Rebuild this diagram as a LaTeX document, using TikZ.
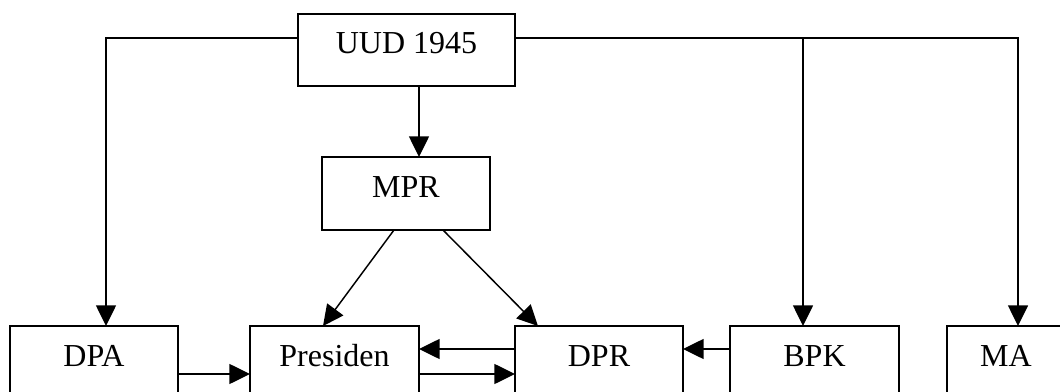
\documentclass[tikz,border=0pt]{standalone}
\usepackage{fontspec}
\setmainfont{Liberation Serif}
\usetikzlibrary{arrows.meta,calc}
\begin{document}
\begin{tikzpicture}[x=0.75pt,y=-0.75pt,
  box/.style={draw,line width=1.1pt,inner sep=0pt,outer sep=0pt,
    font=\fontsize{24}{28}\selectfont,text height=15.75pt,text depth=9.75pt,
    minimum height=54.75pt},
  conn/.style={line width=1.1pt},
  arr/.style={conn,-{Triangle[length=15.5pt,width=15pt]}}]
\clip (0,0) rectangle (1060,392);
\fill[white] (0,0) rectangle (1060,392);
% boxes
\node[box,minimum width=162.75pt,minimum height=54pt] (uud) at (406.5,50) {UUD 1945};
\node[box,minimum width=126pt] (mpr) at (406,193.5) {MPR};
\node[box,minimum width=126pt] (dpa) at (94,362.5) {DPA};
\node[box,minimum width=126.75pt] (pres) at (334.5,362.5) {Presiden};
\node[box,minimum width=126pt] (dpr) at (599,362.5) {DPR};
\node[box,minimum width=126.75pt] (bpk) at (814.5,362.5) {BPK};
\node[box,minimum width=88.5pt] (ma) at (1006,362.5) {MA};
% helper coordinates
\coordinate (ltop) at (106,38);
\coordinate (rtop) at (1018,38);
\coordinate (bx) at (803,38);
\coordinate (mx) at (419,0);
\coordinate (ylo) at (0,374);
\coordinate (yhi) at (0,349);
% connectors
\draw[arr] (uud.west |- ltop) -- (ltop) -- (ltop |- dpa.north);
\draw[arr] (uud.east |- rtop) -- (rtop) -- (rtop |- ma.north);
\draw[arr] (bx) -- (bx |- bpk.north);
\draw[arr] (mx |- uud.south) -- (mx |- mpr.north);
\draw[arr] ($(mpr.south)+(-12,0)$) -- ($(pres.north)+(-11.5,0)$);
\draw[arr] ($(mpr.south)+(37,0)$) -- ($(dpr.north)+(-61,0)$);
\draw[arr] (dpa.east |- ylo) -- (pres.west |- ylo);
\draw[arr] (pres.east |- ylo) -- (dpr.west |- ylo);
\draw[arr] (dpr.west |- yhi) -- (pres.east |- yhi);
\draw[arr] (bpk.west |- yhi) -- (dpr.east |- yhi);
\end{tikzpicture}
\end{document}
